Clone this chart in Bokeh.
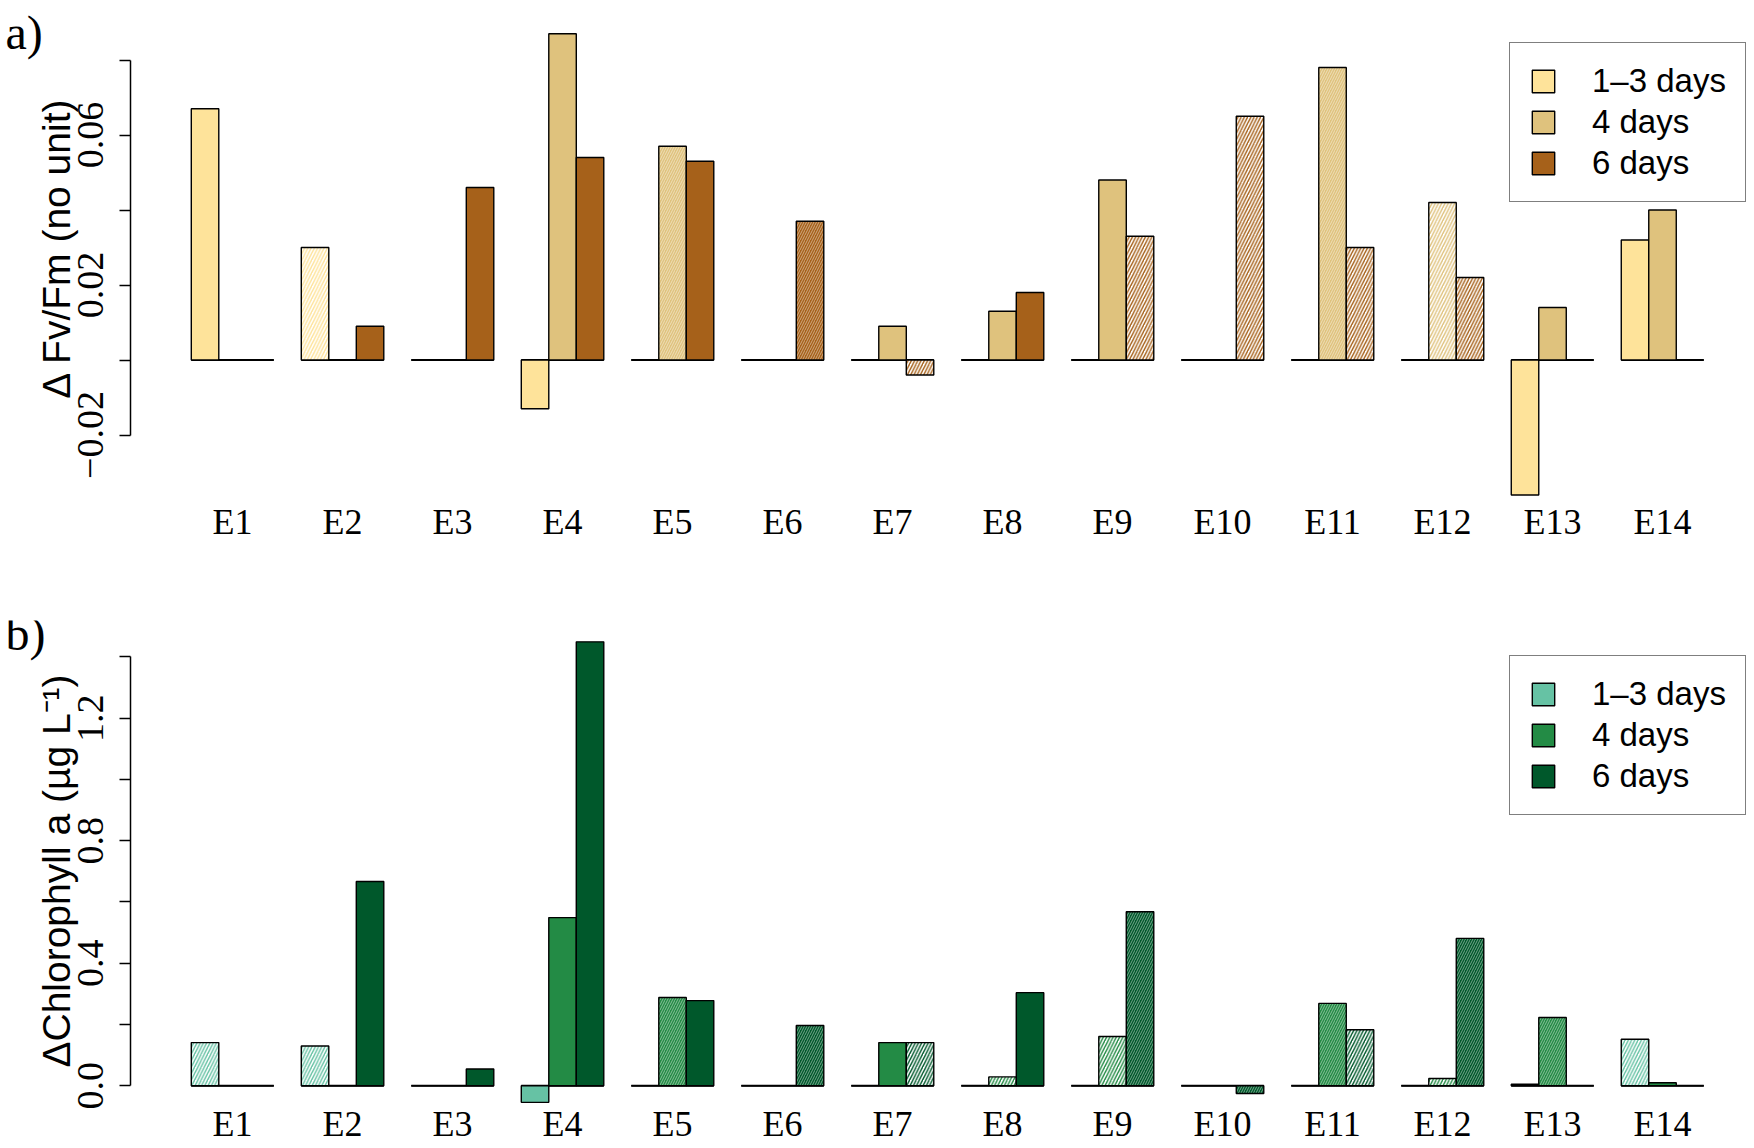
import math
from bokeh.plotting import figure
from bokeh.models import ColumnDataSource, Range1d, FixedTicker, Legend, LegendItem, Label
from bokeh.layouts import column
from bokeh.embed import file_html
from bokeh.resources import INLINE

# ---------------- data ----------------
experiments = ["E1", "E2", "E3", "E4", "E5", "E6", "E7", "E8", "E9", "E10", "E11", "E12", "E13", "E14"]
series_names = ["1\u20133 days", "4 days", "6 days"]

# Panel a: delta Fv/Fm
fv_1_3 = [0.067, 0.030, 0.0, -0.013, 0.0, 0.0, 0.0, 0.0, 0.0, 0.0, 0.0, 0.0, -0.036, 0.032]
fv_4 = [0.0, 0.0, 0.0, 0.087, 0.057, 0.0, 0.009, 0.013, 0.048, 0.0, 0.078, 0.042, 0.014, 0.040]
fv_6 = [0.0, 0.009, 0.046, 0.054, 0.053, 0.037, -0.004, 0.018, 0.033, 0.065, 0.030, 0.022, 0.0, 0.0]
# bar texture: s = solid, d = dense hatching, h = sparse hatching
fv_tex_1_3 = ["s", "h", "s", "s", "s", "s", "s", "s", "s", "s", "s", "s", "s", "s"]
fv_tex_4 = ["s", "s", "s", "s", "d", "s", "s", "s", "s", "s", "d", "h", "s", "s"]
fv_tex_6 = ["s", "s", "s", "s", "s", "d", "h", "s", "h", "h", "h", "h", "s", "s"]

# Panel b: delta Chlorophyll a
chl_1_3 = [0.141, 0.130, 0.0, -0.054, 0.0, 0.0, 0.0, 0.0, 0.0, 0.0, 0.0, 0.0, 0.005, 0.152]
chl_4 = [0.0, 0.0, 0.0, 0.549, 0.288, 0.0, 0.141, 0.029, 0.161, 0.0, 0.269, 0.024, 0.223, 0.010]
chl_6 = [0.0, 0.667, 0.055, 1.449, 0.278, 0.197, 0.141, 0.304, 0.568, -0.025, 0.183, 0.481, 0.0, 0.0]
chl_tex_1_3 = ["h", "h", "s", "s", "s", "s", "s", "s", "s", "s", "s", "s", "s", "h"]
chl_tex_4 = ["s", "s", "s", "s", "d", "s", "s", "h", "h", "s", "d", "h", "d", "s"]
chl_tex_6 = ["s", "s", "s", "s", "s", "d", "h", "s", "d", "d", "h", "d", "s", "s"]

fv_ticks = [-0.02, 0.0, 0.02, 0.04, 0.06, 0.08]
fv_tick_labels = ["\u22120.02", "", "0.02", "", "0.06", ""]
chl_ticks = [0.0, 0.2, 0.4, 0.6, 0.8, 1.0, 1.2, 1.4]
chl_tick_labels = ["0.0", "", "0.4", "", "0.8", "", "1.2", ""]

fv_colors = ["#FEE39A", "#DFC27D", "#A6611A"]
chl_colors = ["#66C2A4", "#238B45", "#00582B"]

fv_ylabel = "\u0394 Fv/Fm (no unit)"
chl_ylabel = "\u0394Chlorophyll a (\u00b5g L\u207b\u00b9)"

SERIF = "Liberation Serif"
SANS = "Liberation Sans"
AXIS_X = -1.2          # left end of the R plot region (where the y axis sits)


def make_panel(values, textures, colors, ticks, tick_labels, yr, frame_h,
               b_top, b_bottom, ylabel, letter, legend_loc, letter_pos):
    n = len(experiments)
    p = figure(frame_width=1754, frame_height=frame_h,
               min_border_left=0, min_border_right=0,
               min_border_top=b_top, min_border_bottom=b_bottom,
               x_range=Range1d(-5.938, 57.845), y_range=Range1d(*yr),
               output_backend="svg", toolbar_location=None)
    p.outline_line_color = None
    p.xgrid.visible = False
    p.ygrid.visible = False

    # group baselines (zero-height bars in R)
    gsrc = ColumnDataSource(dict(x0=[4 * i + 1 for i in range(n)],
                                 x1=[4 * i + 4 for i in range(n)],
                                 y=[0.0] * n))
    p.segment(x0="x0", y0="y", x1="x1", y1="y", source=gsrc,
              line_color="black", line_width=2)

    items = []
    for j, (vals, tex, col, name) in enumerate(zip(values, textures, colors, series_names)):
        xs = [4 * i + 1 + j + 0.5 for i in range(n)]
        fill = ["white" if t == "h" else col for t in tex]
        hp = [" " if t == "s" else "/" for t in tex]
        hc = ["white" if t == "d" else col for t in tex]
        ha = [0.45 if t == "d" else 1.0 for t in tex]
        hs = [5.0 if t == "d" else 6.5 for t in tex]
        hw = [1.0 if t == "d" else 1.4 for t in tex]
        src = ColumnDataSource(dict(x=xs, top=vals, fill=fill, hp=hp, hc=hc, ha=ha, hs=hs, hw=hw))
        r = p.vbar(x="x", top="top", bottom=0, width=1.0, source=src,
                   fill_color="fill", line_color="black", line_width=1.4,
                   hatch_pattern="hp", hatch_color="hc", hatch_alpha="ha",
                   hatch_scale="hs", hatch_weight="hw")
        idx = next(k for k in range(n) if tex[k] == "s" and vals[k] != 0)
        items.append(LegendItem(label=name, renderers=[r], index=idx))

    legend = Legend(items=items, location=legend_loc, glyph_width=28, glyph_height=28,
                    label_standoff=35, padding=19, spacing=3, margin=0,
                    label_text_font=SANS, label_text_font_size="33px",
                    label_text_color="black",
                    border_line_color="black", border_line_width=1.5,
                    background_fill_color="white", background_fill_alpha=1.0)
    p.add_layout(legend)

    # x axis: group names
    centers = [4 * i + 2.5 for i in range(n)]
    xa = p.xaxis[0]
    xa.ticker = FixedTicker(ticks=centers)
    xa.major_label_overrides = {c: e for c, e in zip(centers, experiments)}
    xa.axis_line_color = None
    xa.major_tick_line_color = None
    xa.minor_tick_line_color = None
    xa.major_tick_out = 0
    xa.major_tick_in = 0
    xa.major_label_standoff = -7
    xa.major_label_text_font = SERIF
    xa.major_label_text_font_size = "36px"
    xa.major_label_text_color = "black"

    # y axis, placed where R draws it
    ya = p.yaxis[0]
    ya.fixed_location = AXIS_X
    ya.ticker = FixedTicker(ticks=ticks)
    ya.major_label_overrides = {t: l for t, l in zip(ticks, tick_labels)}
    ya.bounds = (ticks[0], ticks[-1])
    ya.axis_line_color = "black"
    ya.axis_line_width = 1.5
    ya.major_tick_line_color = "black"
    ya.major_tick_line_width = 1.5
    ya.major_tick_out = 11
    ya.major_tick_in = 0
    ya.minor_tick_line_color = None
    ya.major_label_orientation = "vertical"
    ya.major_label_standoff = 17
    ya.major_label_text_font = SERIF
    ya.major_label_text_font_size = "38px"
    ya.major_label_text_color = "black"
    ya.axis_label = ylabel
    ya.axis_label_standoff = -3
    ya.axis_label_text_font = SANS
    ya.axis_label_text_font_style = "normal"
    ya.axis_label_text_font_size = "39px"
    ya.axis_label_text_color = "black"

    p.add_layout(Label(x=letter_pos[0], y=letter_pos[1], x_units="screen", y_units="screen",
                       text=letter, text_align="left", text_baseline="alphabetic",
                       text_font=SERIF, text_font_size="48px", text_color="black"))
    return p


pa = make_panel([fv_1_3, fv_4, fv_6], [fv_tex_1_3, fv_tex_4, fv_tex_6], fv_colors,
                fv_ticks, fv_tick_labels, (-0.0396, 0.09187), 493, 15, 52,
                fv_ylabel, "a)", (1509, 306), (5, 476))
pb = make_panel([chl_1_3, chl_4, chl_6], [chl_tex_1_3, chl_tex_4, chl_tex_6], chl_colors,
                chl_ticks, chl_tick_labels, (-0.0806, 1.5186), 490, 60, 36,
                chl_ylabel, "b)", (1509, 295), (5, 477))

layout = column(pa, pb)
open("out.html", "w").write(file_html(layout, INLINE))
